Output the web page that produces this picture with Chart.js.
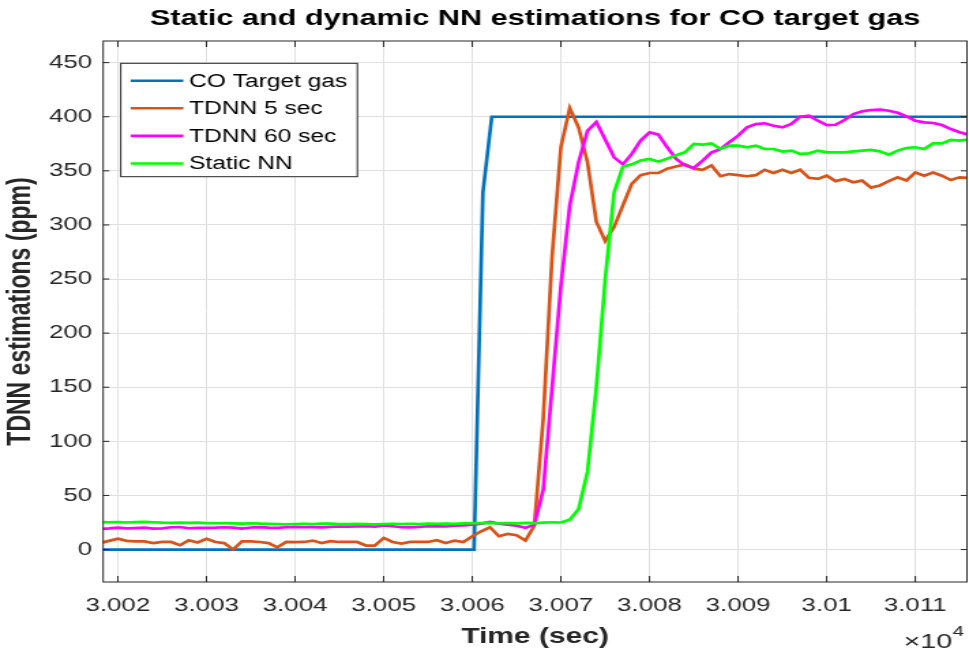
<!DOCTYPE html>
<html>
<head>
<meta charset="utf-8">
<script src="https://cdn.jsdelivr.net/npm/chart.js@4.4.1/dist/chart.umd.min.js"></script>
<style>
  html, body { margin: 0; padding: 0; background: #fff; overflow: hidden; }
  /* the figure is drawn narrow and widened horizontally */
  #wrap { width: 711px; height: 651px; transform: scale(1.36287, 1); transform-origin: 0 0; }
</style>
</head>
<body>
<div id="wrap"><canvas id="chart" width="711" height="651"></canvas></div>
<script>
const chartTitle = 'Static and dynamic NN estimations for CO target gas';

// sample instants (s), one per second
const sampleTimes = Array.from({ length: 99 }, (_, i) => 30018 + i);

// CO target gas step
const targetTimes = [30018, 30060.2, 30061.2, 30062.2, 30117];
const targetValues = [0, 0, 330, 400, 400];

const tdnn5Values = [
  6, 8, 10, 8, 7.5, 7.5, 6, 7, 7, 4,
  8.5, 6.5, 10, 7, 6, 0, 7.5, 7.5, 7, 6,
  2, 7, 6.8, 7, 8.3, 6, 7.7, 7, 7, 7,
  3.7, 3.7, 10.7, 7, 5.5, 7, 7, 7, 8.6, 6,
  8.3, 7, 12.3, 16.9, 20.6, 12.3, 14.4, 13.2, 8.3, 22,
  120, 270, 372, 408, 390, 358, 303, 285, 298, 318,
  338, 346, 348, 348, 352, 354, 356, 352, 351, 355,
  345, 347, 346, 345, 346, 351, 348, 351, 348, 351,
  343.5, 342.5, 345.5, 340.5, 342.5, 339.5, 341, 334.5, 336.5, 340.5,
  344, 341, 348.5, 345.5, 348.5, 345.5, 341.5, 344, 343.5
];

const tdnn60Values = [
  19, 19.5, 20.2, 19.5, 19.8, 20.2, 19.4, 19.6, 20.6, 20.8,
  19.7, 20.1, 20.0, 20.2, 20.6, 20.3, 19.3, 20.4, 20.8, 20.2,
  20.0, 20.6, 21.0, 20.7, 20.8, 20.4, 21.0, 21.3, 21.1, 21.4,
  21.6, 21.2, 22.4, 21.5, 20.6, 20.4, 21.0, 21.5, 21.6, 21.3,
  22.0, 22.4, 23, 24, 25.5, 24, 23, 22, 20, 23,
  55, 149, 244, 318, 358, 387, 395, 379, 362.5, 356,
  365.6, 378, 385.6, 383.4, 371.8, 361, 355, 352.7, 359.5, 367,
  370, 376.4, 382.5, 390.2, 393.3, 393.9, 391.7, 390.2, 393.3, 400,
  401, 396.3, 392.3, 392.6, 397, 402.5, 405, 406.2, 406.5, 405.5,
  403.7, 400.3, 396.3, 394.8, 394.2, 392.3, 388.6, 385.6, 383.4
];

const staticNNValues = [
  25.3, 25.2, 25.3, 25.0, 25.3, 25.5, 25.2, 24.8, 24.6, 24.9,
  24.6, 24.8, 24.5, 24.3, 24.5, 24.2, 24.0, 24.3, 24.0, 23.8,
  23.5, 23.2, 23.6, 23.8, 23.5, 23.9, 24.0, 23.6, 23.4, 23.8,
  23.5, 23.2, 23.6, 23.7, 23.5, 23.8, 23.6, 23.9, 23.7, 24.0,
  23.8, 24.1, 24.3, 24.4, 24.6, 24.3, 24.5, 24.2, 24.6, 24.5,
  24.8, 25.2, 25.0, 27.5, 37.5, 72, 150, 250, 330, 354,
  356, 359.5, 361, 358.5, 361.3, 364.4, 367.2, 374.8, 374.2, 375.4,
  370.2, 373.3, 373.3, 371.8, 373.3, 370.2, 370.2, 367.8, 368.7, 365.6,
  366.2, 368.7, 367.1, 367.1, 367.1, 368, 368.7, 369.3, 368, 365,
  368.7, 371.1, 371.8, 370.2, 375.4, 375.4, 378.5, 377.9, 379
];

const seriesLabels = ['CO Target gas', 'TDNN 5 sec', 'TDNN 60 sec', 'Static NN'];
const seriesColors = ['#0072BD', '#D95319', '#FF00FF', '#00FF00'];

const xTickValues = [30020, 30030, 30040, 30050, 30060, 30070, 30080, 30090, 30100, 30110];
const xTickLabels = ['3.002', '3.003', '3.004', '3.005', '3.006', '3.007', '3.008', '3.009', '3.01', '3.011'];
const yTickValues = [0, 50, 100, 150, 200, 250, 300, 350, 400, 450];

const FONT = '"Liberation Sans", Arial, sans-serif';
const AXIS_COLOR = '#262626';

function pairs(xs, ys) {
  return ys.map((v, i) => ({ x: xs[i], y: v }));
}

// box, inward ticks, title, legend and exponent, drawn the way MATLAB does
const matlabAxes = {
  id: 'matlabAxes',
  afterDraw(chart) {
    const { ctx, chartArea: a, scales: { x, y } } = chart;
    ctx.save();

    ctx.strokeStyle = AXIS_COLOR;
    ctx.lineWidth = 1;
    ctx.strokeRect(a.left, a.top, a.right - a.left, a.bottom - a.top);

    ctx.beginPath();
    x.ticks.forEach(t => {
      const px = x.getPixelForValue(t.value);
      ctx.moveTo(px, a.bottom); ctx.lineTo(px, a.bottom - 6);
      ctx.moveTo(px, a.top); ctx.lineTo(px, a.top + 6);
    });
    y.ticks.forEach(t => {
      const py = y.getPixelForValue(t.value);
      ctx.moveTo(a.left, py); ctx.lineTo(a.left + 4.5, py);
      ctx.moveTo(a.right, py); ctx.lineTo(a.right - 4.5, py);
    });
    ctx.stroke();

    // title over the axes
    ctx.fillStyle = '#000';
    ctx.font = 'bold 22.5px ' + FONT;
    ctx.textAlign = 'center';
    ctx.textBaseline = 'middle';
    ctx.fillText(chartTitle, (a.left + a.right) / 2, 19);

    // legend box in the upper left corner
    const lx = 88.6, ly = 63.3, lw = 173.6, lh = 113.4;
    ctx.fillStyle = '#fff';
    ctx.fillRect(lx, ly, lw, lh);
    ctx.strokeStyle = AXIS_COLOR;
    ctx.lineWidth = 1;
    ctx.strokeRect(lx, ly, lw, lh);
    ctx.font = '18px ' + FONT;
    ctx.textAlign = 'left';
    seriesLabels.forEach((label, i) => {
      const ry = 80.7 + i * 27.6;
      ctx.strokeStyle = seriesColors[i];
      ctx.lineWidth = 2.6;
      ctx.beginPath();
      ctx.moveTo(95.9, ry); ctx.lineTo(134.5, ry);
      ctx.stroke();
      ctx.fillStyle = '#000';
      ctx.fillText(label, 138.7, ry + 1);
    });

    // x10^4 multiplier under the right end of the axis
    ctx.fillStyle = AXIS_COLOR;
    ctx.textBaseline = 'alphabetic';
    ctx.font = '21px ' + FONT;
    const base = '\u00D710';
    ctx.fillText(base, 663, 648);
    const w = ctx.measureText(base).width;
    ctx.font = '15px ' + FONT;
    ctx.fillText('4', 663 + w + 0.5, 636);

    ctx.restore();
  }
};

const lineStyle = { borderWidth: 2.7, pointRadius: 0, tension: 0, fill: false };

new Chart(document.getElementById('chart'), {
  type: 'line',
  data: {
    datasets: [
      { label: seriesLabels[0], data: pairs(targetTimes, targetValues), borderColor: seriesColors[0], order: 3, ...lineStyle },
      { label: seriesLabels[1], data: pairs(sampleTimes, tdnn5Values), borderColor: seriesColors[1], order: 2, ...lineStyle },
      { label: seriesLabels[2], data: pairs(sampleTimes, tdnn60Values), borderColor: seriesColors[2], order: 1, ...lineStyle },
      { label: seriesLabels[3], data: pairs(sampleTimes, staticNNValues), borderColor: seriesColors[3], order: 0, ...lineStyle }
    ]
  },
  options: {
    responsive: false,
    animation: false,
    events: [],
    layout: { padding: { top: 41, right: 1.5, left: 0, bottom: 0 } },
    plugins: {
      legend: { display: false },
      title: { display: false },
      tooltip: { enabled: false }
    },
    scales: {
      x: {
        type: 'linear',
        min: 30018.34,
        max: 30115.83,
        afterBuildTicks: s => { s.ticks = xTickValues.map(v => ({ value: v })); },
        afterFit: s => { s.height = 69; },
        ticks: {
          autoSkip: false,
          maxRotation: 0,
          padding: 12,
          color: AXIS_COLOR,
          font: { family: FONT, size: 19 },
          callback: (v, i) => xTickLabels[i]
        },
        grid: { color: '#e0e0e0', lineWidth: 1, drawTicks: false },
        border: { display: false },
        title: {
          display: true,
          text: 'Time (sec)',
          color: AXIS_COLOR,
          font: { family: FONT, size: 22, weight: 'bold' },
          padding: { top: 0, bottom: 1 }
        }
      },
      y: {
        min: -30,
        max: 470,
        afterBuildTicks: s => { s.ticks = yTickValues.map(v => ({ value: v })); },
        afterFit: s => { s.width = 75.68; },
        ticks: {
          padding: 8,
          color: AXIS_COLOR,
          font: { family: FONT, size: 19 }
        },
        grid: { color: '#e0e0e0', lineWidth: 1, drawTicks: false },
        border: { display: false },
        title: {
          display: true,
          text: 'TDNN estimations (ppm)',
          color: AXIS_COLOR,
          font: { family: FONT, size: 23, weight: 'bold' },
          padding: { top: 2, bottom: 0 }
        }
      }
    }
  },
  plugins: [matlabAxes]
});
</script>
</body>
</html>
